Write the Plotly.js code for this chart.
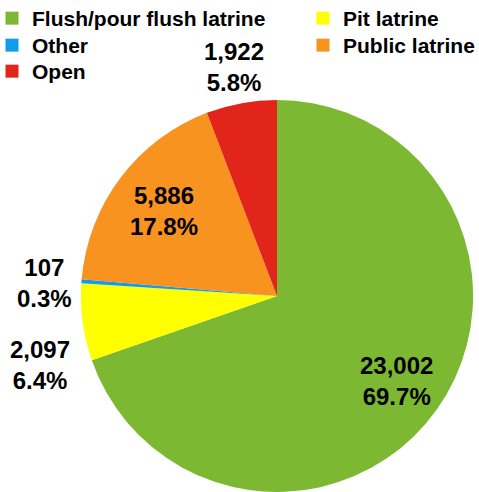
<!DOCTYPE html>
<html>
<head>
<meta charset="utf-8">
<script src="https://cdn.plot.ly/plotly-3.0.1.min.js"></script>
<style>html,body{margin:0;padding:0;background:#fff;}#chart{width:479px;height:492px;}</style>
</head>
<body>
<div id="chart"></div>
<script>
// ---- data ----
const categories = ["Flush/pour flush latrine", "Pit latrine", "Other", "Public latrine", "Open"];
const values = [23002, 2097, 107, 5886, 1922];
const percentLabels = ["69.7%", "6.4%", "0.3%", "17.8%", "5.8%"];
const colors = ["#7DB833", "#FFFF00", "#109CEA", "#F7931E", "#E1251B"];

// ---- label style (radius as fraction of pie radius, extra vertical shift in px) ----
const labelRadius = [0.745, 1.22, 1.19, 0.72, 1.2];
const labelShiftY = [0, 37, 4, 0, 2];

// ---- legend layout: two columns, row-major ----
const legendColX = [-8, 303];
const legendRowTop = [-2, 25, 51];

const W = 479, H = 492;
const fontFamily = "'Liberation Sans', Arial, sans-serif";
const domainX = [80 / W, 474 / W];
const domainY = [0, 0.797];

const labelText = values.map((v, i) => v.toLocaleString("en-US") + "<br>" + percentLabels[i]);

const pie = {
  type: "pie",
  labels: categories,
  values: values,
  textinfo: "none",
  sort: false,
  direction: "clockwise",
  rotation: 0,
  showlegend: false,
  marker: { colors: colors, line: { width: 0 } },
  domain: { x: domainX, y: domainY },
  hoverinfo: "none"
};

const legendFont = { family: fontFamily, size: 21, color: "#000", weight: "bold" };
const legendIds = categories.map((c, i) => i === 0 ? "legend" : "legend" + (i + 1));

// legend entries, one legend box per entry
const legendTraces = categories.map((c, i) => ({
  type: "scatter",
  mode: "markers",
  x: [null],
  y: [null],
  name: c,
  legend: legendIds[i],
  marker: { symbol: "square", size: 13, color: colors[i], line: { width: 0 } },
  hoverinfo: "none"
}));

// label positions from slice mid-angles
const total = values.reduce((a, b) => a + b, 0);
const cxPx = (domainX[0] + domainX[1]) / 2 * W;
const cyPx = H - (domainY[0] + domainY[1]) / 2 * H;
const R = Math.min((domainX[1] - domainX[0]) * W, (domainY[1] - domainY[0]) * H) / 2;
let cum = 0;
const annotations = values.map((v, i) => {
  const mid = (cum + v / 2) / total * 2 * Math.PI;
  cum += v;
  const r = labelRadius[i] * R;
  const px = cxPx + Math.sin(mid) * r;
  const py = cyPx - Math.cos(mid) * r + labelShiftY[i];
  return {
    x: px / W, y: 1 - py / H, xref: "paper", yref: "paper",
    xanchor: "center", yanchor: "middle", showarrow: false,
    text: labelText[i], align: "center",
    font: { family: fontFamily, size: 24, color: "#000", weight: "bold" }
  };
});

const layout = {
  width: W,
  height: H,
  margin: { l: 0, r: 0, t: 0, b: 0, autoexpand: false },
  paper_bgcolor: "#fff",
  plot_bgcolor: "rgba(0,0,0,0)",
  xaxis: { visible: false },
  yaxis: { visible: false },
  showlegend: true,
  annotations: annotations
};
legendIds.forEach((id, i) => {
  const col = i % 2, row = Math.floor(i / 2);
  layout[id] = {
    orientation: "v", x: legendColX[col] / W, y: 1 - legendRowTop[row] / H,
    xanchor: "left", yanchor: "top",
    bgcolor: "rgba(0,0,0,0)", font: legendFont, itemwidth: 30
  };
});

Plotly.newPlot("chart", [pie].concat(legendTraces), layout, { staticPlot: true });
</script>
</body>
</html>
